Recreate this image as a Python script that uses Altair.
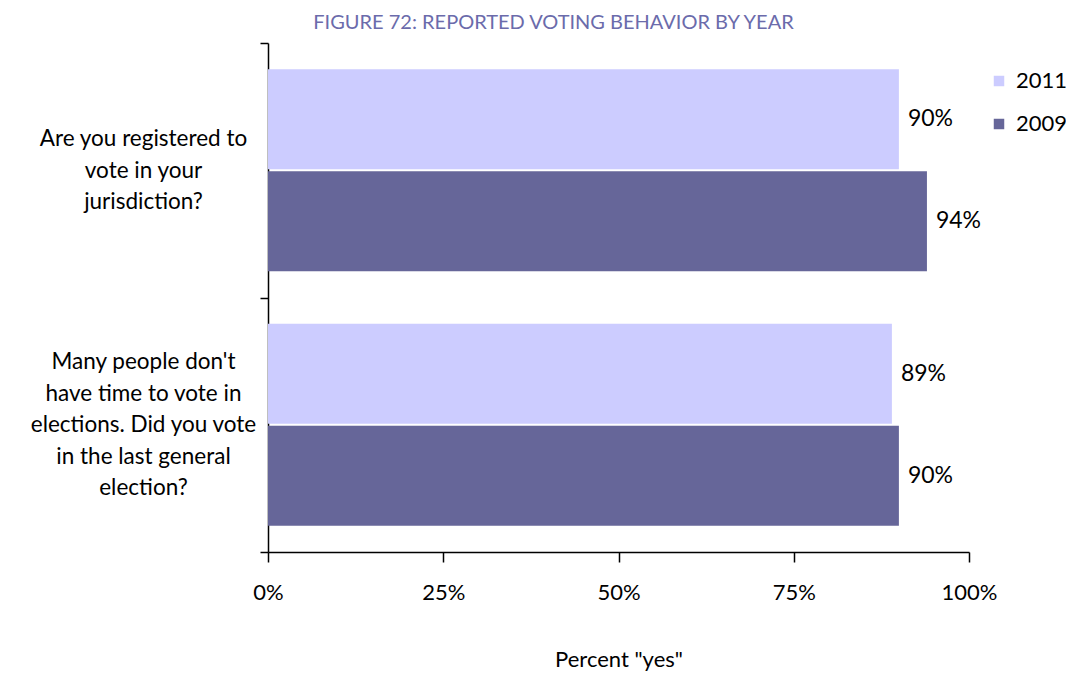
import altair as alt
import pandas as pd

questions = [
    "Are you registered to\nvote in your\njurisdiction?",
    "Many people don't\nhave time to vote in\nelections. Did you vote\nin the last general\nelection?",
]
years = ["2011", "2009"]
values_2011 = [90, 89]
values_2009 = [94, 90]
x_ticks = [0, 25, 50, 75, 100]

rows = []
for q, a, b in zip(questions, values_2011, values_2009):
    rows.append({"question": q, "year": "2011", "value": a, "label": f"{a}%"})
    rows.append({"question": q, "year": "2009", "value": b, "label": f"{b}%"})
df = pd.DataFrame(rows)

FONT = "Lato"
LH = 31.5

base = alt.Chart(df).encode(
    y=alt.Y(
        "question:N",
        sort=questions,
        title=None,
        scale=alt.Scale(paddingInner=0, paddingOuter=0),
        axis=alt.Axis(
            tickBand="extent",
            labelExpr="datum.value ? split(datum.value, '\\n') : ''",
            labelAlign="center",
            labelBaseline="middle",
            labelOffset={
                "condition": {
                    "test": "datum.value && length(split(datum.value, '\\n')) > 3",
                    "value": -2 * LH,
                },
                "value": -LH,
            },
            labelPadding=117,
            labelFontSize=22.5,
            labelFont=FONT,
            labelColor="#000000",
            labelLineHeight=LH,
            labelLimit=300,
            tickSize=8,
            tickColor="#000000",
            domainColor="#000000",
            domainWidth=1.5,
            tickWidth=1.5,
        ),
    ),
    yOffset=alt.YOffset(
        "year:N", sort=years, scale=alt.Scale(paddingInner=0.02, paddingOuter=0.257)
    ),
)

bars = base.mark_bar().encode(
    x=alt.X(
        "value:Q",
        scale=alt.Scale(domain=[0, 100]),
        title='Percent "yes"',
        axis=alt.Axis(
            values=x_ticks,
            labelExpr="datum.value + '%'",
            labelFontSize=22,
            labelFont=FONT,
            labelColor="#000000",
            labelFlush=False,
            labelPadding=20,
            tickSize=10,
            tickColor="#000000",
            domainColor="#000000",
            domainWidth=1.5,
            tickWidth=1.5,
            grid=False,
            titleFont=FONT,
            titleFontSize=22,
            titleFontWeight="normal",
            titleColor="#000000",
            titlePadding=46,
        ),
    ),
    color=alt.Color(
        "year:N",
        sort=years,
        scale=alt.Scale(domain=years, range=["#ccccff", "#666699"]),
        legend=alt.Legend(
            title=None,
            orient="none",
            legendX=720,
            legendY=27,
            symbolType="square",
            symbolSize=110,
            symbolStrokeWidth=0,
            labelFontSize=22,
            labelFont=FONT,
            labelColor="#000000",
            rowPadding=21,
            labelOffset=6,
        ),
    ),
)

texts = base.mark_text(
    align="left", baseline="middle", dx=9, fontSize=23, font=FONT, color="#000000"
).encode(
    x="value:Q",
    text="label:N",
)

chart = (
    (bars + texts)
    .properties(
        width=701,
        height=509,
        autosize=alt.AutoSizeParams(type="none"),
        padding={"left": 260, "top": 35, "right": 97, "bottom": 120},
        title=alt.TitleParams(
            "FIGURE 72: REPORTED VOTING BEHAVIOR BY YEAR",
            font=FONT,
            fontSize=20,
            fontWeight="normal",
            color="#6b6bab",
            anchor="middle",
            dx=-65,
            offset=-1,
        ),
    )
    .configure_view(stroke=None)
)

chart.save("out.html", embed_options={"renderer": "svg", "actions": False})
